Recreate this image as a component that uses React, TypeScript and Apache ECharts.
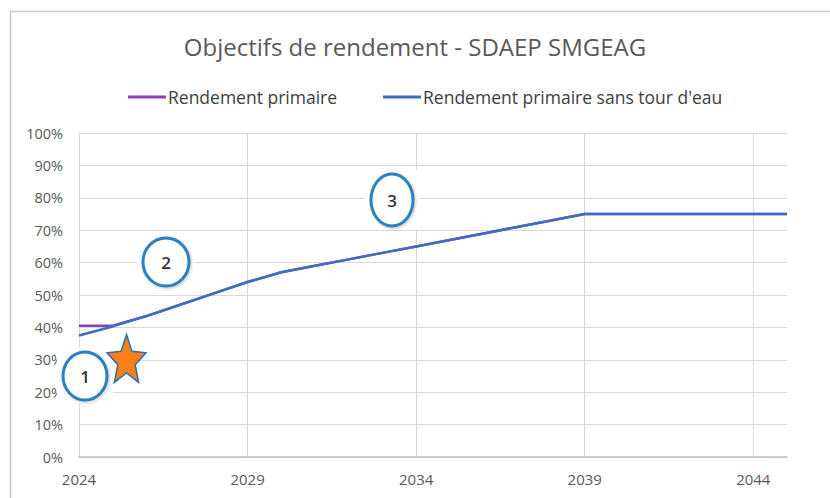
import React, { useEffect, useRef } from "react";
import * as echarts from "echarts";

const years = ["2024","2025","2026","2027","2028","2029","2030","2031","2032","2033","2034","2035","2036","2037","2038","2039","2040","2041","2042","2043","2044","2045"];
const rendementPrimaire = [40.5, 40.5, 43.5, 47, 50.5, 54, 57, 59, 61, 63, 65, 67, 69, 71, 73, 75, 75, 75, 75, 75, 75, 75];
const rendementSansTour = [37.5, 40.3, 43.5, 47, 50.5, 54, 57, 59, 61, 63, 65, 67, 69, 71, 73, 75, 75, 75, 75, 75, 75, 75];
const seriesNames = ["Rendement primaire", "Rendement primaire sans tour d'eau"];

function starPoints(cx: number, cy: number, rx: number, ry: number, inner: number) {
  const pts: number[][] = [];
  for (let i = 0; i < 10; i++) {
    const a = -Math.PI / 2 + (i * Math.PI) / 5;
    const f = i % 2 === 0 ? 1 : inner;
    pts.push([cx + Math.cos(a) * rx * f, cy + Math.sin(a) * ry * f]);
  }
  return pts;
}

function badge(cx: number, cy: number, rx: number, ry: number, label: string) {
  return [
    { type: "rect", z: 100, shape: { x: cx - rx - 6, y: cy - ry - 4, width: 2 * rx + 12, height: 2 * ry + 8 }, style: { fill: "#ffffff" } },
    { type: "ellipse", z: 101, shape: { cx, cy, rx, ry }, style: { fill: "#ffffff", stroke: "#2b80c0", lineWidth: 3, shadowBlur: 3, shadowColor: "rgba(0,0,0,0.25)", shadowOffsetX: 1, shadowOffsetY: 1 } },
    { type: "text", z: 102, x: cx, y: cy, style: { text: label, fill: "#333333", font: "600 17px 'Open Sans'", align: "center", verticalAlign: "middle" } },
  ];
}

export default function App() {
  const ref = useRef<HTMLDivElement>(null);
  useEffect(() => {
    if (!ref.current) return;
    const chart = echarts.init(ref.current, null, { renderer: "svg" });
    chart.setOption({
      animation: false,
      backgroundColor: "#ffffff",
      title: {
        text: "Objectifs de rendement - SDAEP SMGEAG",
        left: "center",
        top: 29,
        textStyle: { fontFamily: "Open Sans", fontSize: 24, fontWeight: "normal", color: "#595959" },
      },
      legend: {
        data: seriesNames,
        left: 123,
        top: 83,
        icon: "rect",
        itemWidth: 38,
        itemHeight: 3,
        itemGap: 46,
        textStyle: { fontFamily: "Open Sans", fontSize: 17.5, color: "#404040", padding: [0, 0, 0, -3] },
      },
      grid: { left: 79, right: 43, top: 133, bottom: 41, containLabel: false },
      xAxis: {
        type: "category",
        data: years,
        boundaryGap: false,
        axisLine: { show: true, lineStyle: { color: "#bfbfbf", width: 1.5 } },
        axisTick: { show: false },
        axisLabel: { interval: 4, color: "#595959", fontFamily: "Open Sans", fontSize: 15, margin: 14 },
        splitLine: { show: true, interval: 4, lineStyle: { color: "#d9d9d9" } },
      },
      yAxis: {
        type: "value",
        min: 0,
        max: 100,
        interval: 10,
        axisLine: { show: true, lineStyle: { color: "#d9d9d9" } },
        axisTick: { show: false },
        axisLabel: { formatter: "{value}%", color: "#595959", fontFamily: "Open Sans", fontSize: 14.5, margin: 16 },
        splitLine: { show: true, lineStyle: { color: "#d9d9d9" } },
      },
      series: [
        {
          name: seriesNames[0],
          type: "line",
          data: rendementPrimaire,
          symbol: "none",
          lineStyle: { color: "#8e3fb8", width: 2.5 },
          itemStyle: { color: "#8e3fb8" },
          z: 2,
        },
        {
          name: seriesNames[1],
          type: "line",
          data: rendementSansTour,
          symbol: "none",
          lineStyle: { color: "#3d6ec0", width: 2.5 },
          itemStyle: { color: "#3d6ec0" },
          z: 3,
        },
      ],
      graphic: [
        { type: "rect", z: 0, shape: { x: 10.5, y: 11.5, width: 830, height: 500 }, style: { fill: "none", stroke: "#c8c8c8", lineWidth: 1.5 } },
        ...badge(85, 376, 22, 24, "1"),
        ...badge(166, 262, 23, 24, "2"),
        ...badge(392, 200, 21, 26, "3"),
        { type: "polygon", z: 103, shape: { points: starPoints(126.5, 361, 20.5, 26.5, 0.45) }, style: { fill: "#f98018", stroke: "#2e6fb0", lineWidth: 1.5 } },
      ],
    });
    return () => chart.dispose();
  }, []);
  return <div ref={ref} style={{ width: 830, height: 498, position: "fixed", left: 0, top: 0 }} />;
}
